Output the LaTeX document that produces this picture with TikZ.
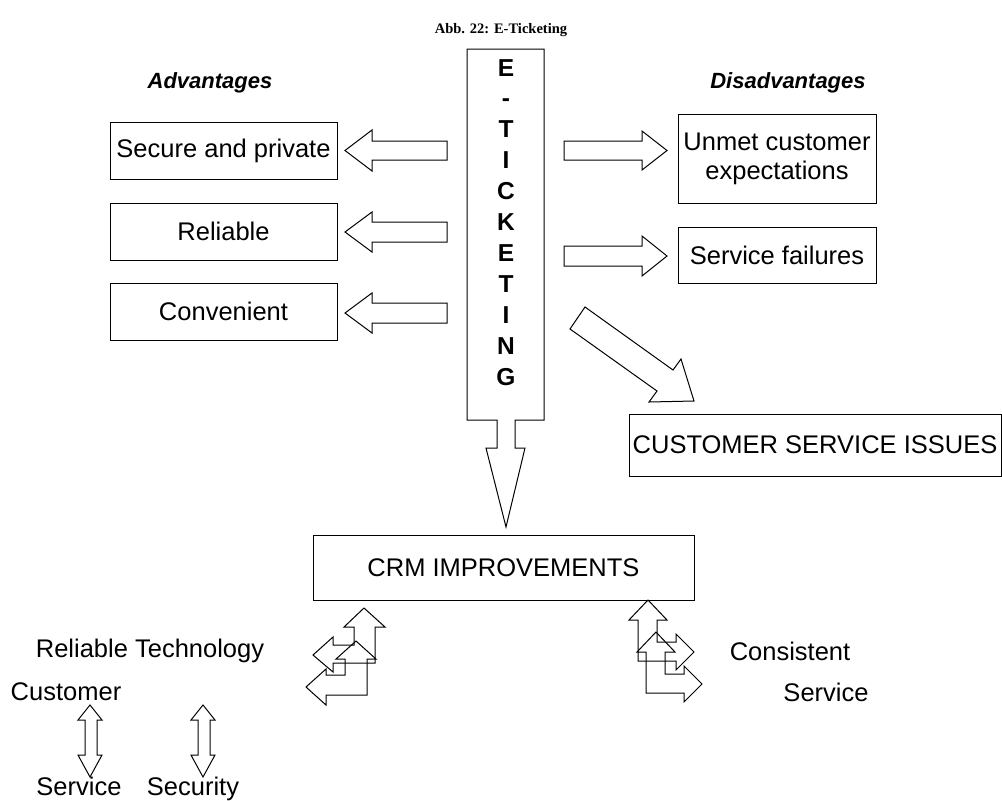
\documentclass[tikz,border=0pt]{standalone}
\usepackage{fontspec}
\setmainfont{Liberation Sans}
\newfontfamily\titlefont{Liberation Serif}
\begin{document}
\begin{tikzpicture}[x=1pt,y=-1pt,line width=1pt,
  box/.style={draw, line width=1pt, inner sep=0pt, align=center, font=\fontsize{25.5}{29}\selectfont},
  lbl/.style={inner sep=0pt, anchor=base, font=\fontsize{25.5}{29}\selectfont},
  head/.style={inner sep=0pt, anchor=base, font=\bfseries\itshape\fontsize{22}{26}\selectfont},
  letter/.style={inner sep=0pt, anchor=base, font=\bfseries\fontsize{24.5}{29}\selectfont},
  blk/.style={draw, line width=1pt, line join=miter}]
\useasboundingbox (0,0) rectangle (1002,801);

% title and headings
\node[inner sep=0pt, anchor=base, font=\titlefont\bfseries\fontsize{14.5}{17}\selectfont] (title) at (501,33) {Abb. 22: E-Ticketing};
\node[head] (adv) at (210,88) {Advantages};
\node[head] (dis) at (788,88) {Disadvantages};

% central E-Ticketing column with downward arrow
\draw[blk] (467,49) -- (544,49) -- (544,420) -- (515,420) -- (515,448) -- (525,448) -- (506,527)
  -- (486,448) -- (497,448) -- (497,420) -- (467,420) -- cycle;
\foreach \l [count=\i] in {E,-,T,I,C,K,E,T,I,N,G}
  \node[letter] (L\i) at (506,{76+(\i-1)*30.9}) {\l};

% boxes
\node[box, minimum width=227pt, minimum height=57pt] (secure) at (223.5,150.5) {Secure and private};
\node[box, minimum width=227pt, minimum height=57pt] (reliable) at (223.5,231.5) {Reliable};
\node[box, minimum width=227pt, minimum height=57pt] (convenient) at (223.5,311.5) {Convenient};
\node[box, minimum width=198pt, minimum height=89pt] (unmet) at (777,158.5) {Unmet customer\\expectations};
\node[box, minimum width=198pt, minimum height=56pt] (failures) at (777,255) {Service failures};
\node[box, minimum width=372pt, minimum height=62pt] (issues) at (815,445) {CUSTOMER SERVICE ISSUES};
\node[box, minimum width=381pt, minimum height=65pt] (crm) at (503.5,567.5) {CRM IMPROVEMENTS};

% left block arrows
\draw[blk] (447,141) -- (372,141) -- (372,130) -- (345,150.5) -- (372,171) -- (372,160) -- (447,160) -- cycle;
\draw[blk] (447,222) -- (372,222) -- (372,212) -- (345,232) -- (372,252) -- (372,242) -- (447,242) -- cycle;
\draw[blk] (447,303) -- (372,303) -- (372,293) -- (345,313) -- (372,333) -- (372,323) -- (447,323) -- cycle;

% right block arrows
\draw[blk] (564,141) -- (642,141) -- (642,131) -- (667,150.5) -- (642,170) -- (642,160) -- (564,160) -- cycle;
\draw[blk] (564,246) -- (642,246) -- (642,236) -- (667,256) -- (642,276) -- (642,266) -- (564,266) -- cycle;

% diagonal block arrow
\draw[blk] (585,307) -- (673,370) -- (681,359) -- (694,401) -- (649,402) -- (657,391) -- (570,329) -- cycle;

% bent arrows below CRM, left
\draw[blk] (364,608) -- (385,627) -- (375,627) -- (375,663) -- (333,663) -- (333,672) -- (313,655)
  -- (333,637) -- (333,645) -- (354,645) -- (354,627) -- (344,627) -- cycle;
\draw[blk] (356,641) -- (376,659) -- (367,659) -- (367,695) -- (326,695) -- (326,705) -- (306,687)
  -- (326,669) -- (326,675) -- (345,675) -- (345,659) -- (336,659) -- cycle;

% bent arrows below CRM, right
\draw[blk] (648,600) -- (667,620) -- (657,620) -- (657,642) -- (676,642) -- (676,634) -- (694,652)
  -- (676,670) -- (676,661) -- (638,661) -- (638,620) -- (629,620) -- cycle;
\draw[blk] (656,632) -- (675,652) -- (665,652) -- (665,674) -- (684,674) -- (684,666) -- (702,684)
  -- (684,702) -- (684,693) -- (646,693) -- (646,652) -- (637,652) -- cycle;

% double arrows
\draw[blk] (90,705) -- (102,720) -- (97,720) -- (97,755) -- (102,755) -- (90,777) -- (78,755)
  -- (85,755) -- (85,720) -- (78,720) -- cycle;
\draw[blk] (203,705) -- (215,720) -- (210,720) -- (210,755) -- (215,755) -- (203,777) -- (191,755)
  -- (198,755) -- (198,720) -- (191,720) -- cycle;

% loose labels
\node[lbl] (reltech) at (150,657) {Reliable Technology};
\node[lbl] (customer) at (66,700) {Customer};
\node[lbl] (consistent) at (790,660) {Consistent};
\node[lbl] (service2) at (826,701) {Service};
\node[lbl] (service1) at (79,795) {Service};
\node[lbl] (security) at (193,795) {Security};
\end{tikzpicture}
\end{document}
